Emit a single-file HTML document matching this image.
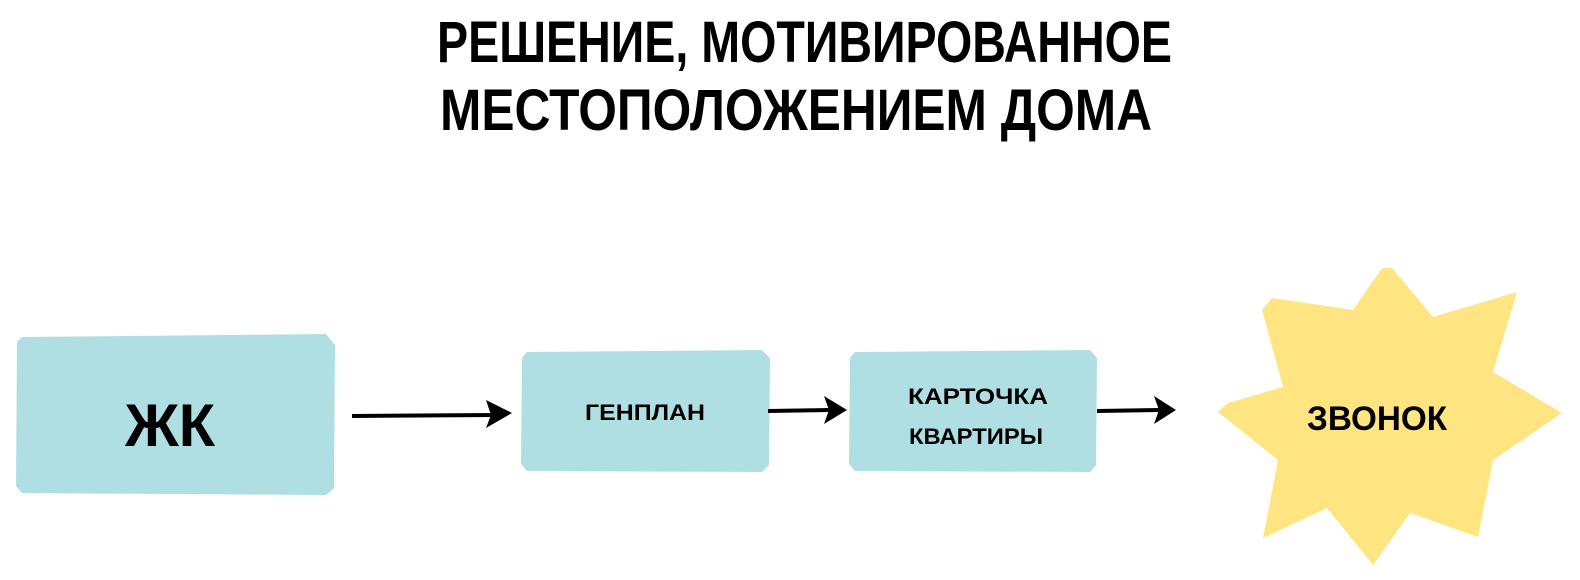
<!DOCTYPE html>
<html><head><meta charset="utf-8"><style>
html,body{margin:0;padding:0;background:#fff;width:1580px;height:580px;overflow:hidden}
</style></head><body>
<svg width="1580" height="580" viewBox="0 0 1580 580" xmlns="http://www.w3.org/2000/svg" font-family="Liberation Sans, DejaVu Sans, sans-serif" font-weight="bold">
<text x="437" y="62" font-size="58" textLength="735" lengthAdjust="spacingAndGlyphs">РЕШЕНИЕ, МОТИВИРОВАННОЕ</text>
<text x="440" y="130" font-size="58" textLength="712" lengthAdjust="spacingAndGlyphs">МЕСТОПОЛОЖЕНИЕМ ДОМА</text>
<path d="M22,337 L326,334 L335,345 L334,488 L326,495 L22,493 L16,486 L17,342 Z" fill="#b0dfe3"/>
<path d="M527,352 L762,350 L770,358 L769,465 L762,472 L527,471 L521,464 L522,358 Z" fill="#b0dfe3"/>
<path d="M855,352 L1090,350 L1097,358 L1096,465 L1090,472 L855,471 L849,464 L850,358 Z" fill="#b0dfe3"/>
<path d="M1382,268 L1353,310 L1272,298 L1262,310 L1283,387 L1228,403 L1218,412 L1278,460 L1263,538 L1327,508 L1373,565 L1410,513 L1478,537 L1493,460 L1562,413 L1493,372 L1517,292 L1433,317 L1392,268 Z" fill="#fee582"/>
<g stroke="#000" stroke-width="4" fill="none"><line x1="352" y1="416" x2="495" y2="415"/><line x1="768" y1="411" x2="830" y2="410"/><line x1="1097" y1="411" x2="1160" y2="410"/></g>
<g fill="#000"><path d="M486,400 L512,413 L486,428 L491,415 Z"/><path d="M824,396 L847,410 L824,424 L829,410 Z"/><path d="M1154,396 L1176,410 L1154,424 L1159,410 Z"/></g>
<text x="170" y="446" font-size="60" text-anchor="middle" textLength="90" lengthAdjust="spacingAndGlyphs">ЖК</text>
<text x="645" y="420" font-size="22" text-anchor="middle" textLength="120" lengthAdjust="spacingAndGlyphs">ГЕНПЛАН</text>
<text x="978" y="404" font-size="22" text-anchor="middle" textLength="140" lengthAdjust="spacingAndGlyphs">КАРТОЧКА</text>
<text x="976" y="444" font-size="22" text-anchor="middle" textLength="134" lengthAdjust="spacingAndGlyphs">КВАРТИРЫ</text>
<text x="1377" y="430" font-size="34" text-anchor="middle" textLength="140" lengthAdjust="spacingAndGlyphs">ЗВОНОК</text>
</svg>
</body></html>
